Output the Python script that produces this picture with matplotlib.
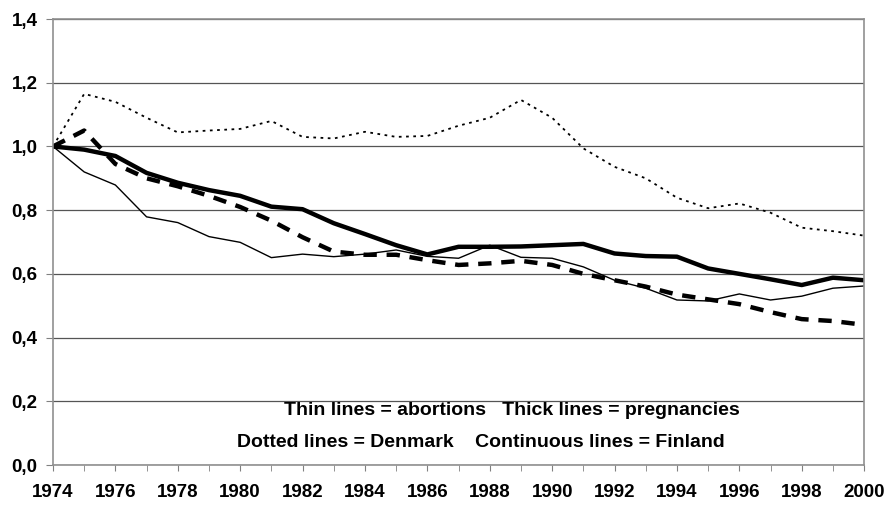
import matplotlib.pyplot as plt
import numpy as np

years = np.arange(1974, 2001)

# Denmark abortions (thin dotted)
dk_abort = [1.00, 1.165, 1.14, 1.09, 1.044, 1.05, 1.055, 1.08, 1.03, 1.025, 1.046, 1.03,
            1.033, 1.065, 1.09, 1.146, 1.09, 0.994, 0.936, 0.90, 0.839, 0.806, 0.821,
            0.792, 0.745, 0.734, 0.72]
# Denmark pregnancies (thick dashed)
dk_preg = [1.00, 1.05, 0.945, 0.90, 0.875, 0.845, 0.81, 0.767, 0.715, 0.67, 0.66, 0.66,
           0.643, 0.628, 0.633, 0.641, 0.628, 0.60, 0.58, 0.56, 0.535, 0.52, 0.505,
           0.48, 0.458, 0.452, 0.44]
# Finland abortions (thin solid)
fi_abort = [1.00, 0.92, 0.879, 0.779, 0.761, 0.717, 0.699, 0.651, 0.662, 0.654, 0.662, 0.675,
            0.655, 0.649, 0.69, 0.652, 0.649, 0.622, 0.58, 0.555, 0.518, 0.515, 0.537,
            0.518, 0.53, 0.555, 0.562]
# Finland pregnancies (thick solid)
fi_preg = [1.00, 0.99, 0.97, 0.917, 0.886, 0.863, 0.845, 0.811, 0.803, 0.759, 0.725, 0.69,
           0.661, 0.685, 0.685, 0.686, 0.69, 0.694, 0.664, 0.656, 0.654, 0.617, 0.60,
           0.583, 0.565, 0.588, 0.58]

yvals = np.arange(0, 1.41, 0.2)
ylabels = [('%.1f' % v).replace('.', ',') for v in yvals]

plt.rcParams['font.family'] = ['Liberation Sans', 'DejaVu Sans']

fig = plt.figure(figsize=(8.89, 5.07), dpi=100)
ax = fig.add_axes([0.0596, 0.0828, 0.9124, 0.8797])

ax.plot(years, dk_abort, color='black', linewidth=1.3, linestyle=(0, (1.5, 2.5)))
ax.plot(years, dk_preg, color='black', linewidth=3.2, linestyle=(0, (3, 2.2)))
ax.plot(years, fi_abort, color='black', linewidth=1.0)
ax.plot(years, fi_preg, color='black', linewidth=3.2)

ax.set_xlim(1974, 2000)
ax.set_ylim(0, 1.4)
ax.set_yticks(yvals)
ax.set_yticklabels(ylabels, fontsize=13.5, fontweight='bold')
ax.set_xticks(years, minor=True)
ax.set_xticks(np.arange(1974, 2001, 2))
ax.set_xticklabels([str(y) for y in range(1974, 2001, 2)], fontsize=13.5, fontweight='bold')
ax.tick_params(axis='x', which='both', length=4, color='#808080', pad=10)
ax.tick_params(axis='y', length=5, color='#808080', pad=6)
ax.grid(axis='y', color='#555555', linewidth=0.9)
ax.set_axisbelow(True)
for s in ax.spines.values():
    s.set_color('#909090')
    s.set_linewidth(1.2)

ax.text(1988.7, 0.17, 'Thin lines = abortions   Thick lines = pregnancies',
        ha='center', va='center', fontsize=14, fontweight='bold')
ax.text(1987.7, 0.07, 'Dotted lines = Denmark    Continuous lines = Finland',
        ha='center', va='center', fontsize=14, fontweight='bold')

fig.savefig('out.png', dpi=100)
